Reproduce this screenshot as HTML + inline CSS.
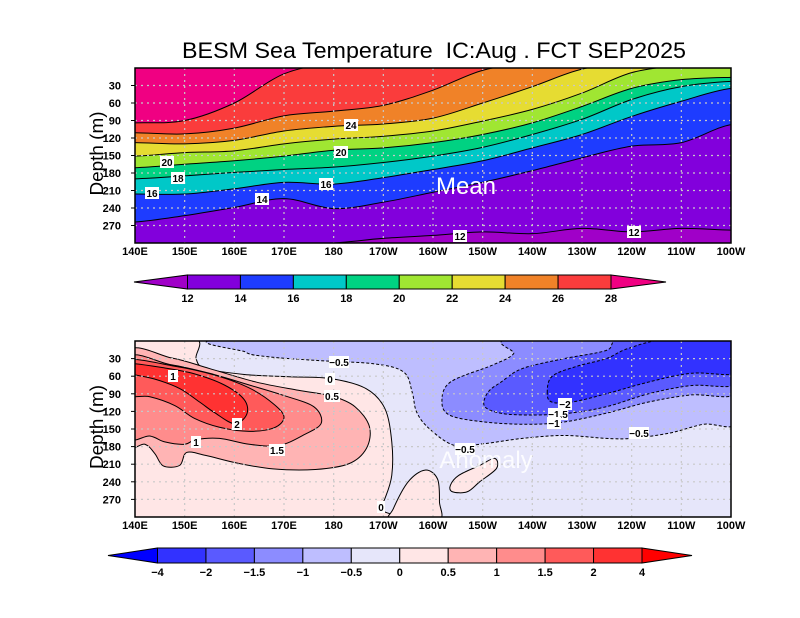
<!DOCTYPE html>
<html><head><meta charset="utf-8"><style>
html,body{margin:0;padding:0;background:#fff;}
svg{display:block;font-family:"Liberation Sans",sans-serif;}
.tk{font-size:11px;font-weight:bold;fill:#000;}
.lb{font-size:10px;font-weight:bold;fill:#000;}
</style></head><body>
<svg id="svg" width="800" height="618" viewBox="0 0 800 618">
<text x="182" y="58" font-size="22" textLength="504" lengthAdjust="spacingAndGlyphs" xml:space="preserve">BESM Sea Temperature  IC:Aug . FCT SEP2025</text>
<defs>
<clipPath id="c1"><rect x="135" y="68" width="596" height="175"/></clipPath>
<clipPath id="c2"><rect x="135" y="341" width="596" height="176"/></clipPath>
</defs>
<g id="p1"></g>
<g id="p2"></g>
<g id="cb1"></g>
<g id="cb2"></g>
</svg>
<script>
// ---- data ----
const lons = [140,150,160,170,180,190,200,210,220,230,240,250,260];
const lonLabels = ["140E","150E","160E","170E","180","170W","160W","150W","140W","130W","120W","110W","100W"];
const depthTicks = [30,60,90,120,150,180,210,240,270];
const isoLevels = [28,26,24,22,20,18,16,14,12];
const iso28 = [94,90,60,10,-8,-8,-8,-8,-8,-8,-8,-8,-8];
const iso26 = [111,113,103,82,74,64,38,4,-8,-8,-8,-8,-8];
const iso24 = [128,130,124,108,100,96,86,60,32,2,-8,-8,-8];
const iso22 = [151,145,142,130,122,117,108,91,71,43,8,-4,-6];
const iso20 = [171,165,159,151,141,137,128,114,94,66,35,20,16];
const iso18 = [190,185,179,174,170,162,151,136,114,88,54,32,23];
const iso16 = [216,216,207,196,199,188,174,159,137,114,83,57,35];
const iso14 = [264,253,239,224,241,230,213,196,176,154,134,128,97];
const iso12 = [306,306,306,302,300,292,287,281,284,275,281,275,278];
const isoColors = ["#fa3c3c","#f08228","#e6dc32","#a0e632","#00d282","#00c8c8","#1e3cff","#8200dc","#a000c8"];
const meanLevels = [12,14,16,18,20,22,24,26,28];
const meanBarColors = ["#a000c8","#8200dc","#1e3cff","#00c8c8","#00d282","#a0e632","#e6dc32","#f08228","#fa3c3c","#f00082"];
const anomLevels = ["-4","-2","-1.5","-1","-0.5","0","0.5","1","1.5","2","4"];
const anomBarColors = ["#0000ff","#3232ff","#5a5aff","#8c8cff","#bebeff","#e6e6fa","#ffe6e6","#ffb4b4","#ff8c8c","#ff5a5a","#ff3232","#ff0000"];
// anomaly contour polygons [lon, depth]
const anomPos0 = [[138,-5],[152,-5],[152.3,30],[154.2,47],[162,57],[171,61],[179.3,64],[186.5,81],[190.3,115],[191.7,172],[191.7,229],[190.3,269],[189.2,286],[188.5,305],[138,305]];
const anomPos0b = [[191.5,306],[192,286],[195,240],[198.4,220],[200.9,235],[201.3,274],[201,306]];
const anomPos0c = [[203.5,246],[205.2,229],[209.4,212],[212.4,200],[212.8,217],[209.4,240],[206.9,257],[203.9,257]];
const anomPos05 = [[138,21],[147.4,29],[155,47],[164.4,70],[172.9,84],[179.7,94],[184.3,112],[187.2,146],[186.6,183],[183.1,209],[176.3,219],[167.8,218],[160.5,208],[154.2,195],[150.4,190],[149,212],[145.7,213],[144,192],[142,176],[138,172]];
const anomPos1 = [[138,31],[147,40],[155,55],[163,75],[170,93],[176,112],[177.5,140],[174,160],[169,178],[163,176],[157,166],[152.3,168],[150,176],[146,172],[143,162],[138,160]];
const anomPos15 = [[138,34],[148,43],[156,58],[163,80],[168,108],[170,130],[168,148],[163,154],[157,147],[152,132],[148,110],[143,95],[138,90]];
const anomPos2 = [[138,38],[146,46],[152,56],[158,75],[162,100],[162.5,125],[160,141],[156,122],[153,104],[149,81],[144,65],[138,53]];
const anomNeg05 = [[161.8,-5],[162.3,19],[167,27],[176.3,33],[188.2,39],[194.1,53],[195.8,87],[196.7,121],[199.2,149],[204.3,178],[210.3,175],[218,166],[226.4,161],[234.9,166],[240,166],[247.6,157],[254.4,142],[262,134],[262,-5]];
const anomNeg1 = [[217.1,-5],[216.2,22],[212,41],[203.5,70],[201.8,104],[203.5,127],[210.3,138],[218.8,142],[226.4,138],[234.9,123],[243.4,104],[251.9,92],[262,87],[262,-5]];
const anomNeg15 = [[239,-5],[234.9,16],[226.4,30],[218,47],[213.7,70],[211.1,87],[210.3,110],[213,122],[218,126],[226.4,124],[234.9,112],[243.4,90],[251.9,76],[262,71],[262,-5]];
const anomNeg2 = [[223,88],[224,60],[229,43],[234.9,30],[239.2,13],[247,-3],[262,-5],[262,53],[252,55],[243.4,70],[234.9,90],[228,104],[223.9,104]];

const NS="http://www.w3.org/2000/svg";
function mk(tag,attrs,parent){const e=document.createElementNS(NS,tag);for(const k in attrs)e.setAttribute(k,attrs[k]);parent.appendChild(e);return e;}
const X0=135,X1=731;
function xs(lon){return X0+(lon-140)*(X1-X0)/120;}
function ysF(y0,h){return d=>y0+d*h/300;}
function crOpen(p){let s="M"+p[0][0]+","+p[0][1];for(let i=0;i<p.length-1;i++){const a=p[Math.max(i-1,0)],b=p[i],c=p[i+1],d=p[Math.min(i+2,p.length-1)];s+=" C"+(b[0]+(c[0]-a[0])/6)+","+(b[1]+(c[1]-a[1])/6)+" "+(c[0]-(d[0]-b[0])/6)+","+(c[1]-(d[1]-b[1])/6)+" "+c[0]+","+c[1];}return s;}
function crClosed(p){const n=p.length;let s="M"+p[0][0]+","+p[0][1];for(let i=0;i<n;i++){const a=p[(i-1+n)%n],b=p[i],c=p[(i+1)%n],d=p[(i+2)%n];s+=" C"+(b[0]+(c[0]-a[0])/6)+","+(b[1]+(c[1]-a[1])/6)+" "+(c[0]-(d[0]-b[0])/6)+","+(c[1]-(d[1]-b[1])/6)+" "+c[0]+","+c[1];}return s+"Z";}

function axes(g,y0,h,clip){
  const ys=ysF(y0,h);
  const grid=mk("g",{"clip-path":clip},g);
  
  
  lons.slice(1,-1).forEach(l=>mk("line",{x1:xs(l),x2:xs(l),y1:y0,y2:y0+h,stroke:"#c8c8c8","stroke-width":1.2,"stroke-dasharray":"2,4"},grid));
  depthTicks.forEach(d=>mk("line",{x1:X0,x2:X1,y1:ys(d),y2:ys(d),stroke:"#c8c8c8","stroke-width":1.2,"stroke-dasharray":"2,4"},grid));
  const f=mk("rect",{x:X0,y:y0,width:X1-X0,height:h,fill:"none",stroke:"#000","stroke-width":1.5},g);
  
  
  depthTicks.forEach(d=>{const t=mk("text",{x:121,y:ys(d)+4,"text-anchor":"end",class:"tk"},g);t.textContent=d;
    
    
    mk("line",{x1:X0-4,x2:X0,y1:ys(d),y2:ys(d),stroke:"#000"},g);});
  lons.forEach((l,i)=>{const t=mk("text",{x:xs(l),y:y0+h+12,"text-anchor":"middle",class:"tk","font-size":"10.5"},g);t.textContent=lonLabels[i];
    
    });
  const yc=y0+h/2-2;
  const yl=mk("text",{x:103,y:yc,"text-anchor":"middle","font-size":"18",textLength:"84",lengthAdjust:"spacingAndGlyphs","xml:space":"preserve",transform:"rotate(-90 103 "+yc+")"},g);
  yl.textContent="Depth  (m)";
  
  
}
function label(g,x,y,txt,w){
  mk("rect",{x:x-w/2,y:y-6,width:w,height:12,fill:"#fff"},g);
  const t=mk("text",{x:x,y:y+4,"text-anchor":"middle",class:"lb"},g);t.textContent=txt;
  
  
}

// ---- Mean panel ----
(function(){
  const g=document.getElementById("p1"),y0=68,h=175,ys=ysF(y0,h);
  const c=mk("g",{"clip-path":"url(#c1)"},g);
  mk("rect",{x:X0,y:y0,width:X1-X0,height:h,fill:"#f00082"},c);
  const isos=[iso28,iso26,iso24,iso22,iso20,iso18,iso16,iso14,iso12];
  const lines=[];
  isos.forEach((arr,k)=>{
    const pts=[[xs(130),ys(arr[0])]].concat(lons.map((l,i)=>[xs(l),ys(arr[i])])).concat([[xs(270),ys(arr[arr.length-1])]]);
    const line=crOpen(pts);
    const p=mk("path",{d:line+" L"+xs(270)+","+(y0+h+40)+" L"+xs(130)+","+(y0+h+40)+"Z",fill:isoColors[k]},c);
    
    
    lines.push(line);
  });
  lines.forEach((d,k)=>{const l=mk("path",{d:d,fill:"none",stroke:"#000","stroke-width":1},c);
    
    });
  axes(g,y0,h,"url(#c1)");
  [[351,125,"24"],[341,152,"20"],[167,162,"20"],[178,178,"18"],[152,193,"16"],[326,184,"16"],[262,199,"14"],[460,236,"12"],[634,232,"12"]].forEach(a=>label(g,a[0],a[1],a[2],14));
  const m=mk("text",{x:466,y:194,"text-anchor":"middle","font-size":"24",fill:"#fff"},g);m.textContent="Mean";
  
  
})();

// ---- Anomaly panel ----
(function(){
  const g=document.getElementById("p2"),y0=341,h=176,ys=ysF(y0,h);
  const c=mk("g",{"clip-path":"url(#c2)"},g);
  mk("rect",{x:X0,y:y0,width:X1-X0,height:h,fill:"#e6e6fa"},c);
  const polys=[[anomPos0,"#ffe6e6",0],[anomPos0b,"#ffe6e6",0],[anomPos0c,"#ffe6e6",0],[anomPos05,"#ffb4b4",0],[anomPos1,"#ff8c8c",0],[anomPos15,"#ff5a5a",0],[anomPos2,"#ff3232",0],
    [anomNeg05,"#bebeff",1],[anomNeg1,"#8c8cff",1],[anomNeg15,"#5a5aff",1],[anomNeg2,"#3232ff",1]];
  const names=["pos-0","pos-0b","pos-0c","pos-0.5","pos-1","pos-1.5","pos-2","neg-0.5","neg-1","neg-1.5","neg-2"];
  polys.forEach((p,k)=>{
    const d=crClosed(p[0].map(q=>[xs(q[0]),ys(q[1])]));
    const e=mk("path",{d:d,fill:p[1],stroke:"#000","stroke-width":1,"stroke-dasharray":p[2]?"3,2":"none"},c);
    
    
  });
  axes(g,y0,h,"url(#c2)");
  [[339,362,"-0.5",20],[330,379,"0",10],[332,396,"0.5",16],[173,376,"1",10],[237,424,"2",10],[196,442,"1",10],[277,450,"1.5",16],[565,404,"-2",14],[558,414,"-1.5",20],[554,423,"-1",14],[639,433,"-0.5",20],[465,449,"-0.5",20],[381,507,"0",8]].forEach(a=>label(g,a[0],a[1],a[2].replace("-","\u2212"),a[3]));
  const m=mk("text",{x:486,y:468,"text-anchor":"middle","font-size":"24",fill:"#fff","fill-opacity":"0.85"},g);m.textContent="Anomaly";
  
  
})();

// ---- Colorbars ----
function colorbar(g,x0,x1,tipL,tipR,y0,y1,levels,colors){
  const n=levels.length-1,w=(x1-x0)/n,ym=(y0+y1)/2;
  const l=mk("polygon",{points:tipL+","+ym+" "+x0+","+y0+" "+x0+","+y1,fill:colors[0],stroke:"#000"},g);
  
  
  for(let i=0;i<n;i++){const r=mk("rect",{x:x0+i*w,y:y0,width:w,height:y1-y0,fill:colors[i+1],stroke:"#000"},g);
    
    }
  const rr=mk("polygon",{points:x1+","+y0+" "+tipR+","+ym+" "+x1+","+y1,fill:colors[colors.length-1],stroke:"#000"},g);
  
  
  levels.forEach((v,i)=>{const t=mk("text",{x:x0+i*w,y:y1+13,"text-anchor":"middle",class:"tk","font-size":"13"},g);t.textContent=String(v).replace("-","\u2212");
    
    });
}
colorbar(document.getElementById("cb1"),187.5,611,134,666,275,289,meanLevels,meanBarColors);
colorbar(document.getElementById("cb2"),157.5,642,108,692,548,563,anomLevels,anomBarColors);
</script>
</body></html>
